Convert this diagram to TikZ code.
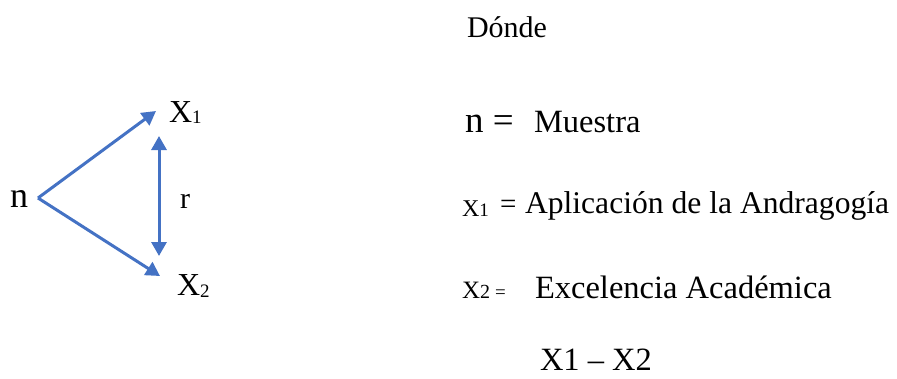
\documentclass[tikz,border=0pt]{standalone}
\usepackage{fontspec}
\setmainfont{Liberation Serif}
\usetikzlibrary{arrows.meta}
\definecolor{arrowblue}{HTML}{4472C4}
\newcommand{\fs}[1]{\fontsize{#1}{#1}\selectfont}
\begin{document}
\begin{tikzpicture}[x=1pt,y=-1pt,
  txt/.style={anchor=base west, inner sep=0pt, outer sep=0pt},
  arr/.style={draw=arrowblue, line width=3pt, -{Triangle[length=14pt,width=15pt]}},
  darr/.style={draw=arrowblue, line width=3pt, {Triangle[length=14pt,width=15pt]}-{Triangle[length=14pt,width=15pt]}}]
\useasboundingbox (0,0) rectangle (897,378);
% left diagram
\node[txt, font=\fs{36}] (n) at (10,207) {n};
\node[txt, font=\fs{32}] (x1) at (169,122) {X{\fs{19}\raisebox{-1pt}{1}}};
\node[txt, font=\fs{32}] (x2) at (177,295) {X{\fs{19}\raisebox{-2pt}{2}}};
\node[txt, font=\fs{30}] (r) at (180,208) {r};
\coordinate (ns) at (38,198);
\coordinate (a1) at (156,111);
\coordinate (a2) at (160,276);
\coordinate (v1) at (159,136);
\coordinate (v2) at (159,256);
\draw[arr] (ns) -- (a1);
\draw[arr] (ns) -- (a2);
\draw[darr] (v1) -- (v2);
% legend
\node[txt, font=\fs{30}] (donde) at (467,37) {Dónde};
\node[txt, font=\fs{37}] (nl) at (465,132) {n =};
\node[txt, font=\fs{32.5}] (muestra) at (534,132) {Muestra};
\node[txt, font=\fs{24}] (x1l) at (462,216) {X{\fs{19}1}};
\node[txt, font=\fs{29}] (eq1) at (500,213) {=};
\node[txt, font=\fs{31.6}] (apl) at (525,213) {Aplicación de la Andragogía};
\node[txt, font=\fs{25}] (x2l) at (462,298) {X{\fs{20}2 \fs{19}=}};
\node[txt, font=\fs{32.5}] (exc) at (535,298) {Excelencia Académica};
\node[txt, font=\fs{32.5}] (xx) at (540,370) {X1 – X2};
\end{tikzpicture}
\end{document}
